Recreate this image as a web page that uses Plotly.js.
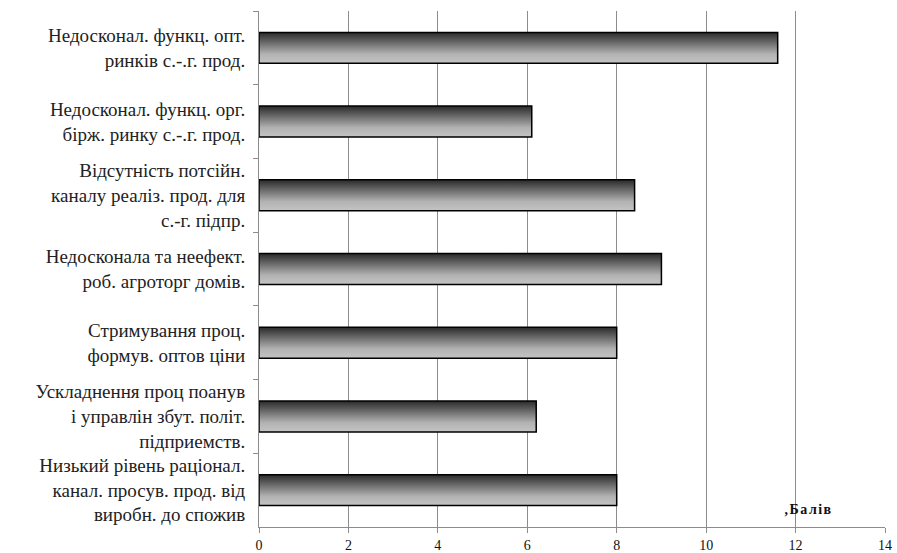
<!DOCTYPE html>
<html>
<head>
<meta charset="utf-8">
<script src="https://cdn.plot.ly/plotly-3.0.1.min.js"></script>
<style>
html,body{margin:0;padding:0;background:#fff;}
#chart{width:897px;height:553px;}
</style>
</head>
<body>
<div id="chart"></div>
<script>
const categories = [
  "Недосконал. функц. опт.<br>ринків с.-.г. прод.",
  "Недосконал. функц. орг.<br>бірж. ринку с.-.г. прод.",
  "Відсутність потсійн.<br>каналу реаліз. прод. для<br>с.-г. підпр.",
  "Недосконала та неефект.<br>роб. агроторг домів.",
  "Стримування проц.<br>формув. оптов ціни",
  "Ускладнення проц поанув<br>і управлін збут. політ.<br>підприемств.",
  "Низький рівень раціонал.<br>канал. просув. прод. від<br>виробн. до спожив"
];
const values = [11.6, 6.1, 8.4, 9.0, 8.0, 6.2, 8.0];
const xTicks = [0, 2, 4, 6, 8, 10, 12, 14];
const unitLabel = ",Балів";

const SERIF = "Liberation Serif";

const trace = {
  type: "bar",
  orientation: "h",
  y: categories,
  x: values,
  marker: {color: "#8a8a8a", line: {color: "#000", width: 1.5}},
  hoverinfo: "none"
};

const layout = {
  width: 897, height: 553,
  margin: {l: 259, r: 12, t: 11, b: 26, pad: 0},
  paper_bgcolor: "#fff", plot_bgcolor: "#fff",
  showlegend: false,
  bargap: 0.58,
  font: {family: SERIF, color: "#222"},
  xaxis: {
    range: [0, 14], tickvals: xTicks, ticktext: xTicks.map(String),
    showgrid: true, gridcolor: "#8c8c8c", gridwidth: 1,
    zeroline: false, showline: true, linecolor: "#8c8c8c", linewidth: 1,
    ticks: "outside", ticklen: 5, tickcolor: "#8c8c8c",
    tickfont: {size: 14, family: SERIF, color: "#111"},
    automargin: false, fixedrange: true
  },
  yaxis: {
    type: "category", autorange: "reversed",
    tickson: "boundaries", ticks: "outside", ticklen: 5, tickcolor: "#8c8c8c",
    showgrid: false, zeroline: false, showline: true, linecolor: "#8c8c8c", linewidth: 1,
    tickfont: {size: 19, family: SERIF, color: "#222"},
    ticklabelstandoff: 9,
    automargin: false, fixedrange: true
  },
  annotations: [{
    xref: "x", yref: "paper", x: 11.8, y: 0.0, xanchor: "left", yanchor: "bottom",
    yshift: 8,
    text: "<b>" + unitLabel + "</b>", showarrow: false,
    font: {size: 14, family: SERIF, color: "#111"}
  }]
};

Plotly.newPlot("chart", [trace], layout, {staticPlot: true, displayModeBar: false}).then(function (gd) {
  const svg = gd.querySelector("svg.main-svg");
  const NS = "http://www.w3.org/2000/svg";
  let defs = svg.querySelector("defs");
  if (!defs) { defs = document.createElementNS(NS, "defs"); svg.insertBefore(defs, svg.firstChild); }
  const g = document.createElementNS(NS, "linearGradient");
  g.setAttribute("id", "barGrad");
  g.setAttribute("x1", "0"); g.setAttribute("y1", "0");
  g.setAttribute("x2", "0"); g.setAttribute("y2", "1");
  [["0", "#2a2a2a"], ["0.35", "#6e6e6e"], ["0.7", "#b2b2b2"], ["1", "#c4c4c4"]].forEach(function (s) {
    const st = document.createElementNS(NS, "stop");
    st.setAttribute("offset", s[0]); st.setAttribute("stop-color", s[1]);
    g.appendChild(st);
  });
  defs.appendChild(g);
  gd.querySelectorAll(".bars .point path").forEach(function (p) {
    p.style.fill = "url(#barGrad)";
    p.style.fillOpacity = "1";
  });
  gd.querySelectorAll(".annotation-text").forEach(function (t) {
    t.style.letterSpacing = "1.5px";
  });
});
</script>
</body>
</html>
